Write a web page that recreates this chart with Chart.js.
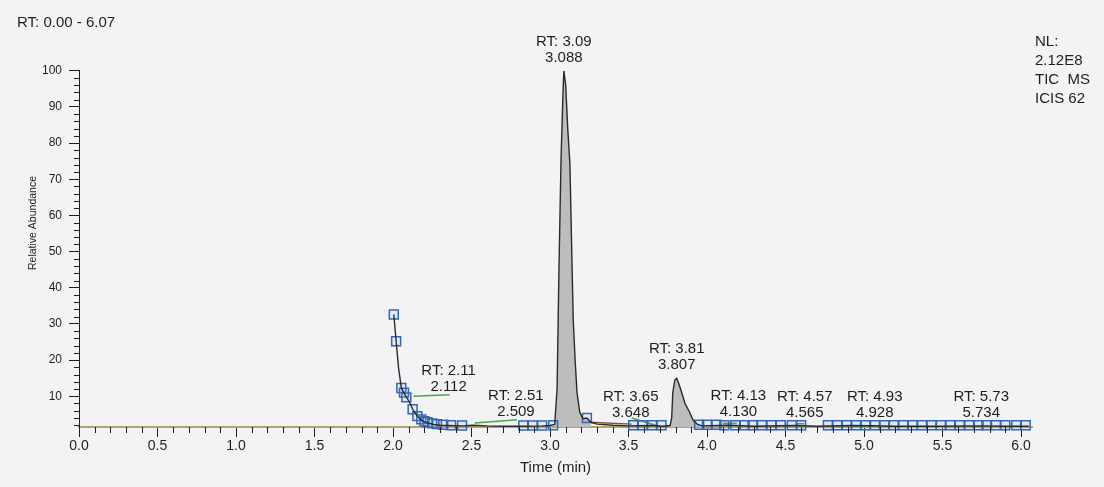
<!DOCTYPE html>
<html>
<head>
<meta charset="utf-8">
<title>TIC chromatogram</title>
<script src="https://cdn.jsdelivr.net/npm/chart.js@4.4.1/dist/chart.umd.min.js"></script>
<style>
  html, body { margin: 0; padding: 0; background: #f3f3f5; }
  #wrap { position: relative; width: 1104px; height: 487px; }
</style>
</head>
<body>
<div id="wrap"><canvas id="tic"></canvas></div>
<script>
// TIC trace: retention time (min) / relative abundance (%)
const ticTime = [2.005, 2.02, 2.035, 2.053, 2.075, 2.09, 2.112, 2.125, 2.155, 2.185, 2.22, 2.26, 2.30, 2.36, 2.44,
  2.509, 2.6, 2.7, 2.83, 2.95, 3.00, 3.03, 3.045, 3.057, 3.07, 3.082, 3.088, 3.10, 3.113, 3.127, 3.14, 3.148,
  3.16, 3.172, 3.19, 3.21, 3.235, 3.26, 3.30, 3.40, 3.50, 3.648, 3.72, 3.765, 3.775, 3.782, 3.795, 3.807,
  3.82, 3.835, 3.86, 3.89, 3.91, 3.94, 3.97, 4.13, 4.30, 4.565, 4.70, 4.928, 5.20, 5.50, 5.734, 5.90, 6.05];
const ticValue = [32.6, 25.2, 18.0, 12.3, 10.5, 9.5, 7.8, 6.4, 4.5, 3.2, 2.6, 2.2, 2.0, 1.9, 1.8,
  2.0, 1.8, 1.7, 1.7, 1.8, 1.9, 2.2, 12, 45, 75, 93, 100, 96, 84, 74, 47, 31,
  20, 11, 5.5, 3.8, 4.0, 2.8, 2.3, 2.0, 1.8, 1.9, 1.7, 1.9, 4, 11, 14.5, 15,
  13.5, 11.5, 8, 5.5, 3.5, 2.2, 1.8, 2.0, 1.7, 1.9, 1.7, 1.9, 1.7, 1.7, 1.8, 1.7, 1.7];

// ICIS detection points (blue squares)
const markTime = [2.005, 2.02, 2.053, 2.07, 2.085, 2.125, 2.155, 2.18, 2.2, 2.22, 2.25, 2.28, 2.32, 2.37, 2.44,
  2.83, 2.89, 2.95, 3.02, 3.235, 3.53, 3.59, 3.65, 3.71, 3.95, 4.0, 4.06, 4.11, 4.18, 4.24, 4.29, 4.35, 4.41,
  4.47, 4.54, 4.60, 4.77, 4.83, 4.89, 4.95, 5.01, 5.07, 5.13, 5.19, 5.25, 5.31, 5.37, 5.43, 5.49, 5.55, 5.61,
  5.67, 5.73, 5.78, 5.84, 5.90, 5.97, 6.03];
const markValue = [32.6, 25.2, 12.3, 11.0, 9.7, 6.4, 4.5, 3.6, 3.1, 2.8, 2.5, 2.3, 2.1, 2.0, 1.9,
  1.9, 1.9, 1.9, 2.0, 4.0, 2.0, 2.0, 2.0, 2.0, 2.1, 2.1, 2.1, 2.0, 2.0, 2.0, 2.0, 2.0, 2.0,
  2.0, 2.0, 2.0, 2.0, 2.0, 2.0, 2.0, 2.0, 2.0, 2.0, 2.0, 2.0, 2.0, 2.0, 2.0, 2.0, 2.0, 2.0,
  2.0, 2.0, 2.0, 2.0, 2.0, 2.0, 2.0];

// integration baselines (start/end of each segment)
const fitTime = [[2.13, 2.36], [2.52, 2.79], [3.52, 3.70], [4.10, 4.19], [4.57, 4.62], [4.93, 5.07]];
const fitValue = [[10.0, 10.4], [2.6, 3.5], [4.0, 1.6], [2.5, 2.5], [2.4, 2.4], [1.7, 1.8]];
const tailTime = [3.25, 3.52];
const tailValue = [2.8, 2.3];

// peak annotations
const peakRT = [2.112, 2.509, 3.088, 3.648, 3.807, 4.130, 4.565, 4.928, 5.734];
const peakTitle = ['RT: 2.11', 'RT: 2.51', 'RT: 3.09', 'RT: 3.65', 'RT: 3.81', 'RT: 4.13', 'RT: 4.57', 'RT: 4.93', 'RT: 5.73'];
const peakText = ['2.112', '2.509', '3.088', '3.648', '3.807', '4.130', '4.565', '4.928', '5.734'];
const filledPeaks = [[3.02, 3.26], [3.76, 3.97]];

const xTicks = [0, 0.5, 1.0, 1.5, 2.0, 2.5, 3.0, 3.5, 4.0, 4.5, 5.0, 5.5, 6.0];
const yTicks = [10, 20, 30, 40, 50, 60, 70, 80, 90, 100];
const rangeText = 'RT: 0.00 - 6.07';
const infoLines = ['NL:', '2.12E8', 'TIC  MS', 'ICIS 62'];

// label nudges in px so labels don't collide (layout only)
const labelShift = [[38, -4], [43, 0], [0, 0], [-21, 0], [0, 0], [11, 0], [9, 0], [22, 0], [2, 0]];

const FONT = '"Liberation Sans", Arial, sans-serif';
const INK = '#1e1e1e';

const pts = (ts, vs) => ts.map((t, i) => ({ x: t, y: vs[i] }));
const ticPts = pts(ticTime, ticValue);

function ticAt(t) {
  for (let i = 1; i < ticTime.length; i++) {
    if (ticTime[i] >= t) {
      const f = (t - ticTime[i - 1]) / (ticTime[i] - ticTime[i - 1]);
      return ticValue[i - 1] + f * (ticValue[i] - ticValue[i - 1]);
    }
  }
  return ticValue[ticValue.length - 1];
}

const fitPts = [];
fitTime.forEach((seg, i) => {
  fitPts.push({ x: seg[0], y: fitValue[i][0] }, { x: seg[1], y: fitValue[i][1] }, { x: seg[1] + 0.001, y: null });
});

const fillSets = filledPeaks.map(([a, b]) => ({
  data: ticPts.filter(p => p.x >= a && p.x <= b),
  showLine: true,
  borderWidth: 0,
  pointRadius: 0,
  backgroundColor: '#bdbdbd',
  fill: { value: 1.5 },
  order: 4
}));

const minorTicks = {
  id: 'minorTicks',
  afterDraw(chart) {
    const { ctx, scales: { x, y } } = chart;
    ctx.save();
    ctx.strokeStyle = INK;
    ctx.lineWidth = 1;
    ctx.beginPath();
    for (let i = 1; i <= 60; i++) {
      if (i % 5 === 0) continue;
      const px = Math.round(x.getPixelForValue(i / 10)) + 0.5;
      ctx.moveTo(px, y.bottom);
      ctx.lineTo(px, y.bottom + 6);
    }
    for (let v = 2; v < 100; v += 2) {
      if (v % 10 === 0) continue;
      const py = Math.round(y.getPixelForValue(v)) + 0.5;
      ctx.moveTo(x.left - 5, py);
      ctx.lineTo(x.left, py);
    }
    ctx.stroke();
    ctx.restore();
  }
};

const annotations = {
  id: 'annotations',
  afterDraw(chart) {
    const { ctx, scales: { x, y } } = chart;
    ctx.save();
    ctx.fillStyle = INK;
    ctx.font = '15px ' + FONT;
    ctx.textBaseline = 'middle';

    ctx.textAlign = 'left';
    ctx.fillText(rangeText, 17, 23);
    infoLines.forEach((s, i) => ctx.fillText(s, 1035, 42 + i * 19));

    ctx.textAlign = 'center';
    peakRT.forEach((rt, i) => {
      const [dx, dy] = labelShift[i];
      const cx = x.getPixelForValue(rt) + dx;
      const apex = y.getPixelForValue(ticAt(rt));
      const l2 = apex - 13 + dy;
      ctx.fillText(peakTitle[i], cx, l2 - 16);
      ctx.fillText(peakText[i], cx, l2);
    });

    // y axis title
    ctx.save();
    ctx.translate(33, 223);
    ctx.rotate(-Math.PI / 2);
    ctx.font = '10.5px ' + FONT;
    ctx.fillText('Relative Abundance', 0, 0);
    ctx.restore();

    ctx.restore();
  }
};

new Chart(document.getElementById('tic'), {
  type: 'scatter',
  data: {
    datasets: [
      {
        label: 'TIC',
        data: ticPts,
        showLine: true,
        borderColor: '#2a2a2a',
        borderWidth: 1.4,
        pointRadius: 0,
        fill: false,
        order: 0
      },
      {
        label: 'ICIS',
        data: pts(markTime, markValue),
        showLine: false,
        pointStyle: 'rect',
        pointRadius: 6.3,
        borderColor: '#3467b0',
        borderWidth: 1.5,
        backgroundColor: 'rgba(120,160,220,0.12)',
        clip: false,
        order: 1
      },
      {
        label: 'baseline',
        data: fitPts,
        showLine: true,
        spanGaps: false,
        borderColor: '#45a84a',
        borderWidth: 1.6,
        pointRadius: 0,
        order: 2
      },
      {
        label: 'tail',
        data: pts(tailTime, tailValue),
        showLine: true,
        borderColor: '#8a4a2e',
        borderWidth: 1.4,
        pointRadius: 0,
        order: 3
      },
      ...fillSets
    ]
  },
  options: {
    responsive: true,
    maintainAspectRatio: false,
    animation: false,
    events: [],
    layout: { padding: { left: 0, top: 70.7, right: 72, bottom: 0 } },
    plugins: { legend: { display: false }, tooltip: { enabled: false } },
    scales: {
      x: {
        type: 'linear',
        min: 0,
        max: 6.07,
        afterBuildTicks: s => { s.ticks = xTicks.map(v => ({ value: v })); },
        afterFit: s => { s.height = 60; },
        ticks: {
          callback: v => v.toFixed(1),
          font: { size: 14, family: FONT },
          color: INK,
          padding: 1,
          maxRotation: 0,
          autoSkip: false
        },
        grid: { display: true, drawOnChartArea: false, drawTicks: true, tickLength: 10, tickColor: INK },
        border: { display: true, color: '#b3a46c', width: 2 },
        title: {
          display: true,
          text: 'Time (min)',
          color: INK,
          font: { size: 15, family: FONT },
          padding: { top: 0, bottom: 10 }
        }
      },
      y: {
        type: 'linear',
        min: 1.5,
        max: 100,
        afterBuildTicks: s => { s.ticks = yTicks.map(v => ({ value: v })); },
        afterFit: s => { s.width = 79; },
        ticks: {
          callback: v => String(v),
          font: { size: 12, family: FONT },
          color: INK,
          padding: 7
        },
        grid: { display: true, drawOnChartArea: false, drawTicks: true, tickLength: 10, tickColor: INK },
        border: { display: true, color: INK, width: 1 }
      }
    }
  },
  plugins: [minorTicks, annotations]
});
</script>
</body>
</html>
